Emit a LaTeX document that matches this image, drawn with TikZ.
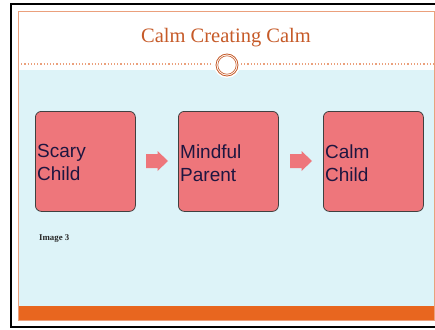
\documentclass[tikz,border=0pt]{standalone}
\usepackage{fontspec}
\setmainfont{Liberation Serif}
\newfontfamily\boxfont{Liberation Sans}
\definecolor{frameor}{HTML}{EBA07C}
\definecolor{titleor}{HTML}{C65A28}
\definecolor{baror}{HTML}{E8661F}
\definecolor{lightblue}{HTML}{DDF3F8}
\definecolor{boxfill}{HTML}{EE767B}
\definecolor{boxtext}{HTML}{1E1640}
\tikzset{
  stepbox/.style={draw=black!75, line width=0.8pt, fill=boxfill, rounded corners=6pt,
    minimum width=100pt, minimum height=100pt, anchor=north west, inner sep=0pt},
  boxlabel/.style={anchor=west, text=boxtext, font=\boxfont\fontsize{19}{23}\selectfont,
    align=left, inner sep=0pt},
  blockarrow/.style={fill=boxfill, draw=none}
}
\begin{document}
\begin{tikzpicture}[x=1pt,y=-1pt]
\useasboundingbox (0,0) rectangle (435,329);
\fill[white] (0,0) rectangle (435,329);
% outer black border
\draw[black, line width=2.2pt] (11,4) rectangle (440,327);
% light blue content area
\fill[lightblue] (18,70) rectangle (434,306);
% orange bottom bar
\fill[baror] (18,306) rectangle (434,320);
% orange frame
\draw[frameor, line width=1pt] (18,12) rectangle (434,320);
% title
\node[text=titleor, font=\fontsize{20.5}{24}\selectfont] (title) at (226,38) {Calm Creating Calm};
% dotted divider
\draw[frameor, line width=1.2pt, dotted] (18,64) -- (213,64);
\draw[frameor, line width=1.2pt, dotted] (241,64) -- (434,64);
% medallion
\fill[white] (227,65) circle (13);
\node[circle, draw=titleor, line width=0.8pt, minimum size=22pt, inner sep=0pt] (med) at (227,65) {};
\draw[titleor, line width=0.6pt] (227,65) circle (9.2);
% boxes
\node[stepbox] (b1) at (35,111) {};
\node[stepbox] (b2) at (178,111) {};
\node[stepbox] (b3) at (323,111) {};
\node[boxlabel] (t1) at ([xshift=2pt,yshift=-1.5pt]b1.west) {Scary\\Child};
\node[boxlabel] (t2) at ([xshift=2pt,yshift=-1.5pt]b2.west) {Mindful\\Parent};
\node[boxlabel] (t3) at ([xshift=2pt,yshift=-1.5pt]b3.west) {Calm\\Child};
% block arrows
\foreach \ax in {146,290}{
  \fill[blockarrow] (\ax,154) -- ++(11.5,0) -- ++(0,-3) -- ++(10.5,10) -- ++(-10.5,10) -- ++(0,-3) -- ++(-11.5,0) -- cycle;
}
% caption
\node[anchor=west, font=\bfseries\fontsize{8.8}{10}\selectfont, text=black!85, inner sep=0pt] (cap) at (39,239) {Image 3};
\end{tikzpicture}
\end{document}
